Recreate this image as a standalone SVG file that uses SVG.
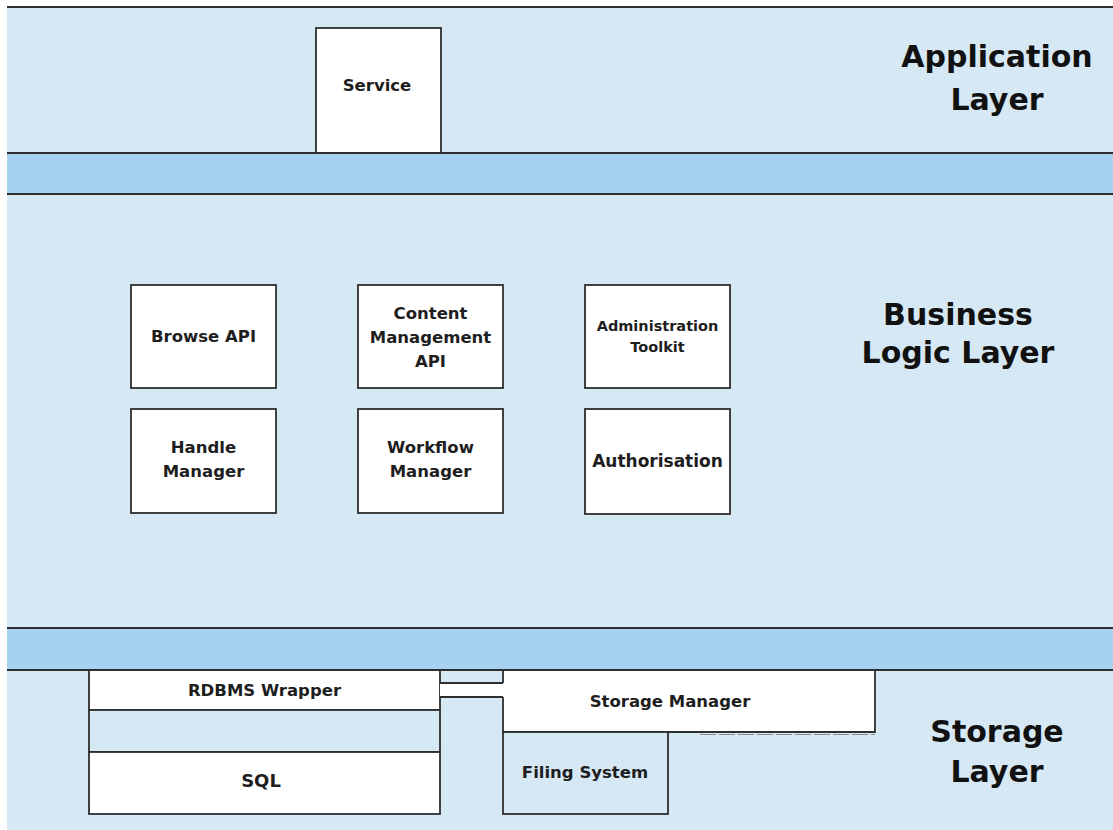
<svg xmlns="http://www.w3.org/2000/svg" width="1113" height="830" viewBox="0 0 1113 830">
  <style>
    .bg { fill: #d5e8f4; }
    .band { fill: #a6d1ef; }
    .ln { stroke: #2e2e2e; stroke-width: 1.8; fill: none; }
    .box { fill: #ffffff; stroke: #2e2e2e; stroke-width: 1.8; }
    .pbox { fill: #d5e8f4; stroke: #2e2e2e; stroke-width: 1.8; }
    .lbl { font-family: "DejaVu Sans", "Liberation Sans", sans-serif; font-weight: bold; font-size: 16.5px; fill: #1e1e1e; text-anchor: middle; }
    .title { font-family: "DejaVu Sans", "Liberation Sans", sans-serif; font-weight: bold; font-size: 30px; fill: #111111; text-anchor: middle; }
  </style>
  <rect x="0" y="0" width="1113" height="830" fill="#ffffff"/>

  <g id="application-layer">
    <rect class="bg" x="7" y="7" width="1106" height="146"/>
    <line class="ln" x1="7" y1="7" x2="1113" y2="7" stroke-width="2.2"/>
    <text class="title" x="997" y="67">Application</text>
    <text class="title" x="997" y="110">Layer</text>
  </g>

  <g id="band-upper">
    <rect class="band" x="7" y="153" width="1106" height="41"/>
    <line class="ln" x1="7" y1="153" x2="1113" y2="153"/>
    <line class="ln" x1="7" y1="194" x2="1113" y2="194"/>
  </g>

  <g id="business-logic-layer">
    <rect class="bg" x="7" y="195" width="1106" height="433"/>
    <text class="title" x="958" y="325">Business</text>
    <text class="title" x="958" y="363">Logic Layer</text>
  </g>

  <g id="band-lower">
    <rect class="band" x="7" y="628" width="1106" height="42"/>
    <line class="ln" x1="7" y1="628" x2="1113" y2="628"/>
  </g>

  <g id="storage-layer">
    <rect class="bg" x="7" y="671" width="1106" height="159"/>
    <text class="title" x="997" y="742">Storage</text>
    <text class="title" x="997" y="782">Layer</text>
  </g>

  <g id="service">
    <rect class="box" x="316" y="28" width="125" height="125"/>
    <line class="ln" x1="300" y1="153" x2="449" y2="153" stroke-width="2.4"/>
    <text class="lbl" x="377" y="91">Service</text>
  </g>

  <g id="browse-api">
    <rect class="box" x="131" y="285" width="145" height="103"/>
    <text class="lbl" x="203.5" y="342">Browse API</text>
  </g>
  <g id="content-management-api">
    <rect class="box" x="358" y="285" width="145" height="103"/>
    <text class="lbl" x="430.5" y="319">Content</text>
    <text class="lbl" x="430.5" y="343">Management</text>
    <text class="lbl" x="430.5" y="367">API</text>
  </g>
  <g id="administration-toolkit">
    <rect class="box" x="585" y="285" width="145" height="103"/>
    <text class="lbl" x="657.5" y="331" style="font-size:14.5px">Administration</text>
    <text class="lbl" x="657.5" y="352" style="font-size:14.5px">Toolkit</text>
  </g>
  <g id="handle-manager">
    <rect class="box" x="131" y="409" width="145" height="104"/>
    <text class="lbl" x="203.5" y="453">Handle</text>
    <text class="lbl" x="203.5" y="477">Manager</text>
  </g>
  <g id="workflow-manager">
    <rect class="box" x="358" y="409" width="145" height="104"/>
    <text class="lbl" x="430.5" y="453">Workflow</text>
    <text class="lbl" x="430.5" y="477">Manager</text>
  </g>
  <g id="authorisation">
    <rect class="box" x="585" y="409" width="145" height="105"/>
    <text class="lbl" x="657.5" y="467" style="font-size:17px">Authorisation</text>
  </g>

  <g id="rdbms-wrapper">
    <rect class="box" x="89" y="670" width="351" height="40"/>
    <text class="lbl" x="264.5" y="696">RDBMS Wrapper</text>
  </g>
  <g id="rdbms-gap">
    <rect class="pbox" x="89" y="710" width="351" height="42"/>
  </g>
  <g id="sql">
    <rect class="box" x="89" y="752" width="351" height="62"/>
    <text class="lbl" x="261" y="787" style="font-size:18px">SQL</text>
  </g>

  <g id="storage-manager">
    <rect x="503" y="671" width="372" height="61" fill="#ffffff"/>
    <path class="ln" d="M503,670 V683 M503,697 V732 H875 V670"/>
    <line x1="700" y1="734.5" x2="875" y2="734.5" stroke="#8a8a8a" stroke-width="1" stroke-dasharray="16 3"/>
    <text class="lbl" x="670" y="707">Storage Manager</text>
  </g>
  <g id="filing-system">
    <rect class="pbox" x="503" y="732" width="165" height="82"/>
    <text class="lbl" x="585" y="778">Filing System</text>
  </g>

  <g id="connectors">
    <rect x="440" y="683" width="64" height="14" fill="#ffffff"/>
    <line class="ln" x1="440" y1="683" x2="503" y2="683"/>
    <line class="ln" x1="440" y1="697" x2="503" y2="697"/>
  </g>

  <line class="ln" x1="7" y1="670" x2="1113" y2="670"/>
</svg>
